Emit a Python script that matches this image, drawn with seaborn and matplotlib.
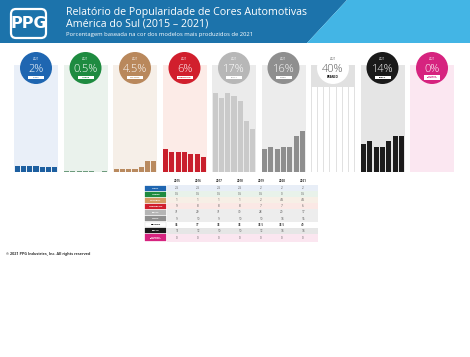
import numpy as np
import pandas as pd
import matplotlib
matplotlib.use("Agg")
import matplotlib.pyplot as plt
from matplotlib.patches import Polygon, Circle, Rectangle, FancyBboxPatch
import seaborn as sns

# data (percent of production, South America)
years = ["2015", "2016", "2017", "2018", "2019", "2020", "2021"]
nomes = ["AZUL", "VERDE", "NATURAL", "VERMELHO", "PRATA", "CINZA", "BRANCO", "PRETO", "OUTRAS\nESPECIAIS"]
azul = [2.5, 2.5, 2.5, 2.5, 2, 2, 2]
verde = [0.5, 0.5, 0.5, 0.5, 0.5, 0, 0.5]
natural = [1, 1, 1, 1, 2, 4.5, 4.5]
vermelho = [9, 8, 8, 8, 7, 7, 6]
prata = [31, 29, 31, 30, 28, 20, 17]
cinza = [9, 10, 9, 10, 10, 14, 16]
branco = [36, 37, 38, 38, 38.5, 38.5, 40]
preto = [11, 12, 10, 10, 12, 14, 14]
outras = [0, 0, 0, 0, 0, 0, 0]

series = [azul, verde, natural, vermelho, prata, cinza, branco, preto, outras]

bar_cores = ["#1d5fa0", "#6d9b7d", "#b98a5f", "#c91f2c", "#cacaca", "#8e8e8e", "#ffffff", "#1c1c1c", "#d6237f"]
circ_cores = ["#1f66b1", "#1e8b40", "#b9885c", "#d11f2d", "#b7b7b7", "#8f8f8f", "#ffffff", "#1a1a1a", "#d6237f"]
fundo = ["#e9eff8", "#eaf2ec", "#f6efe8", "#fcebe7", "#ebebeb", "#ececec", "#e1e1e1", "#e5e5e5", "#fbe7f1"]
tab_fundo = ["#e8eef7", "#e8f2ea", "#f7efe6", "#fbe8e5", "#ededed", "#ededed", "#ffffff", "#e6e6e6", "#fbe6f0"]
tab_cores = ["#1f66b1", "#1e8b40", "#d39b62", "#d11f2d", "#b5b5b5", "#8f8f8f", "#ffffff", "#1a1a1a", "#d6237f"]

sns.set_style("white")
plt.rcParams["font.family"] = ["Open Sans", "DejaVu Sans"]

W, H = 470, 357
fig = plt.figure(figsize=(4.7, 3.57), dpi=100)
fig.patch.set_facecolor("white")

# background axes in pixel coords
ax_bg = fig.add_axes([0, 0, 1, 1], zorder=0)
ax_bg.set_xlim(0, W)
ax_bg.set_ylim(H, 0)
ax_bg.axis("off")

ax_bg.add_patch(Polygon([(0, 0), (347, 0), (307, 43), (0, 43)], closed=True, color="#1c73ab", lw=0))
ax_bg.add_patch(Polygon([(347, 0), (W, 0), (W, 43), (307, 43)], closed=True, color="#43b5e5", lw=0))
ax_bg.add_patch(FancyBboxPatch((11, 9), 35, 29, boxstyle="round,pad=0,rounding_size=5",
                               fc="none", ec="white", lw=1.6))
ax_bg.text(28.5, 24, "PPG", color="white", fontsize=11.5, fontweight="bold", ha="center", va="center",
           family="DejaVu Sans")
ax_bg.text(66, 12.5, "Relatório de Popularidade de Cores Automotivas", color="white", fontsize=7.7,
           ha="left", va="center")
ax_bg.text(66, 24, "América do Sul (2015 – 2021)", color="white", fontsize=7.7, ha="left", va="center")
ax_bg.text(66, 34.5, "Porcentagem baseada na cor dos modelos mais produzidos de 2021", color="white",
           fontsize=4.2, ha="left", va="center")

# one bar panel per colour
top, bot, pw, step, x0 = 65, 172, 44, 49.5, 14
for i, vals in enumerate(series):
    left = x0 + step * i
    ax = fig.add_axes([left / W, (H - bot) / H, pw / W, (bot - top) / H], zorder=1)
    ax.set_facecolor(fundo[i])
    df = pd.DataFrame({"ano": years, "pct": vals})
    sns.barplot(data=df, x="ano", y="pct", ax=ax, color=bar_cores[i], saturation=1, width=0.8,
                linewidth=0, edgecolor=bar_cores[i])
    ax.set_xlim(-0.5, 6.5)
    ax.set_ylim(0, 42)
    if nomes[i] == "BRANCO":
        ax.add_patch(Rectangle((0, 0.795), 1, 0.3, transform=ax.transAxes, color=fundo[i], zorder=5, lw=0))
    ax.set_xticks([])
    ax.set_yticks([])
    ax.set_xlabel("")
    ax.set_ylabel("")
    for s in ax.spines.values():
        s.set_visible(False)

# overlay: circles, table, footer
ax_top = fig.add_axes([0, 0, 1, 1], zorder=5)
ax_top.set_xlim(0, W)
ax_top.set_ylim(H, 0)
ax_top.axis("off")
ax_top.patch.set_alpha(0)

for i, vals in enumerate(series):
    cx = x0 + step * i + pw / 2
    cy = 68
    ax_top.add_patch(Circle((cx, cy), 16, color=circ_cores[i], lw=0))
    txt = "#555555" if nomes[i] == "BRANCO" else "white"
    ax_top.text(cx, 59.5, "2021", color=txt, fontsize=2, ha="center", va="center")
    ax_top.text(cx, 69, f"{vals[-1]:g}%", color=txt, fontsize=8, ha="center", va="center", fontweight="light")
    nome = nomes[i].replace("\n", " ") if i < 8 else nomes[i]
    if nomes[i] == "BRANCO":
        ax_top.text(cx, 77, nome, color="black", fontsize=2, fontweight="bold", ha="center", va="center")
    else:
        hh = 5 if i == 8 else 3
        ax_top.add_patch(Rectangle((cx - 8, 77 - hh / 2), 16, hh, color="white", lw=0))
        ax_top.text(cx, 77, nome, color=circ_cores[i], fontsize=1.6, fontweight="bold",
                    ha="center", va="center", linespacing=0.9)

# table
col_x = [177, 198, 219, 240, 261, 282, 303]
lab_l, lab_r, tab_r = 145, 167, 318
for j, y in enumerate(years):
    ax_top.text(col_x[j], 181.5, y, fontsize=2.2, fontweight="bold", color="#333333", ha="center", va="center")
row_y = 185.0
for i, vals in enumerate(series):
    rh = 8 if i == 8 else 6.1
    ax_top.add_patch(Rectangle((lab_r, row_y), tab_r - lab_r, rh, color=tab_fundo[i], lw=0))
    ec = "#cccccc" if nomes[i] == "BRANCO" else tab_cores[i]
    ax_top.add_patch(Rectangle((lab_l, row_y + 0.6), lab_r - lab_l - 1, rh - 1.2, fc=tab_cores[i], ec=ec, lw=0.2))
    lc = "black" if nomes[i] == "BRANCO" else "white"
    ax_top.text((lab_l + lab_r - 1) / 2, row_y + rh / 2, nomes[i], fontsize=1.7, fontweight="bold", color=lc,
                ha="center", va="center", linespacing=0.9)
    for j, v in enumerate(vals):
        ax_top.text(col_x[j], row_y + rh / 2, f"{v:g}", fontsize=2.2, color="#555555",
                    fontweight="bold" if nomes[i] == "BRANCO" else "normal", ha="center", va="center")
    row_y += rh

ax_top.text(6, 254, "© 2021 PPG Industries, Inc. All rights reserved", fontsize=2.7, fontweight="bold",
            color="#333333", ha="left", va="center")

fig.savefig("out.png", dpi=100)
